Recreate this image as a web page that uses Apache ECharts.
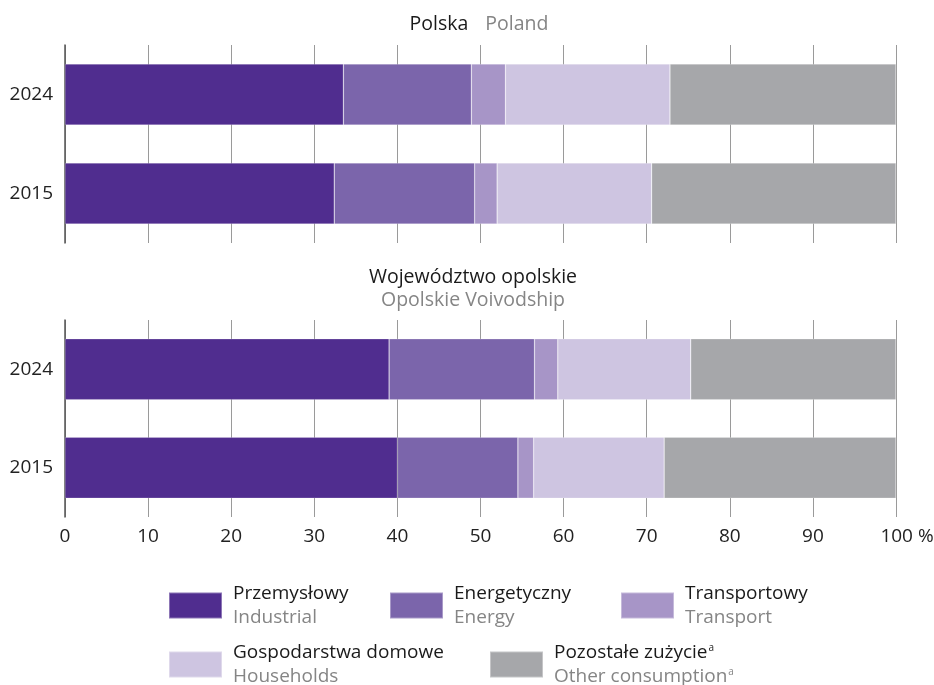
<!DOCTYPE html>
<html>
<head>
<meta charset="utf-8">
<script src="https://cdn.jsdelivr.net/npm/echarts@6/dist/echarts.min.js"></script>
<style>
html,body{margin:0;padding:0;background:#fff;}
#chart{width:934px;height:685px;}
</style>
</head>
<body>
<div id="chart"></div>
<script>
// Categories (bottom to top on the y axis)
const years = ['2015', '2024'];
const xTicks = [0, 10, 20, 30, 40, 50, 60, 70, 80, 90, 100];

// Legend / series names
const namesPL = ['Przemysłowy', 'Energetyczny', 'Transportowy', 'Gospodarstwa domowe', 'Pozostałe zużycie'];
const namesEN = ['Industrial', 'Energy', 'Transport', 'Households', 'Other consumption'];

// Poland (%), order: 2015, 2024
const polandIndustrial = [32.4, 33.5];
const polandEnergy = [16.9, 15.4];
const polandTransport = [2.7, 4.1];
const polandHouseholds = [18.6, 19.8];
const polandOther = [29.4, 27.2];

// Opolskie Voivodship (%), order: 2015, 2024
const opolskieIndustrial = [40.0, 39.0];
const opolskieEnergy = [14.5, 17.5];
const opolskieTransport = [1.9, 2.8];
const opolskieHouseholds = [15.7, 16.0];
const opolskieOther = [27.9, 24.7];

const colors = ['#502D8F', '#7B65AB', '#A795C7', '#CEC5E1', '#A6A7AA'];
const FONT = 'Open Sans';

const polandSets = [polandIndustrial, polandEnergy, polandTransport, polandHouseholds, polandOther];
const opolskieSets = [opolskieIndustrial, opolskieEnergy, opolskieTransport, opolskieHouseholds, opolskieOther];

const series = [];
[polandSets, opolskieSets].forEach((sets, gi) => {
  sets.forEach((d, i) => {
    series.push({
      type: 'bar',
      name: namesPL[i],
      stack: 'g' + gi,
      xAxisIndex: gi,
      yAxisIndex: gi,
      barWidth: 61,
      data: d,
      itemStyle: { color: colors[i], borderColor: 'rgba(255,255,255,0.35)', borderWidth: 0.6 },
      emphasis: { disabled: true }
    });
  });
});

const legendPos = [
  { left: 168, top: 584 },
  { left: 389, top: 584 },
  { left: 620, top: 584 },
  { left: 168, top: 643 },
  { left: 489, top: 643 }
];

const legends = namesPL.map((n, i) => ({
  data: [n],
  left: legendPos[i].left,
  top: legendPos[i].top,
  padding: 0,
  itemWidth: 53,
  itemHeight: 26,
  icon: 'rect',
  selectedMode: false,
  formatter: function (name) {
    const k = namesPL.indexOf(name);
    if (k === 4) {
      return '{a|' + namesPL[k] + '}{s|a}\n{b|' + namesEN[k] + '}{s2|a}';
    }
    return '{a|' + namesPL[k] + '}\n{b|' + namesEN[k] + '}';
  },
  textStyle: {
    fontFamily: FONT,
    rich: {
      a: { fontSize: 19, color: '#1a1a1a', fontFamily: FONT, padding: [0, 0, 0, 6], lineHeight: 24 },
      b: { fontSize: 19, color: '#858585', fontFamily: FONT, padding: [0, 0, 0, 6], lineHeight: 24 },
      s: { fontSize: 10, color: '#1a1a1a', fontFamily: FONT, padding: [0, 0, 8, 1], lineHeight: 24 },
      s2: { fontSize: 10, color: '#858585', fontFamily: FONT, padding: [0, 0, 8, 1], lineHeight: 24 }
    }
  }
}));

const xAxisBase = (gi, showLabel) => ({
  type: 'value',
  gridIndex: gi,
  min: xTicks[0],
  max: xTicks[xTicks.length - 1],
  interval: xTicks[1] - xTicks[0],
  axisLine: { show: false },
  axisTick: { show: false },
  splitLine: { show: true, lineStyle: { color: '#9a9a9a', width: 1 } },
  axisLabel: {
    show: showLabel,
    margin: 10,
    fontFamily: FONT,
    fontSize: 19,
    color: '#222',
    formatter: function (v) {
      if (v === 100) return '{p|100 %}';
      return '{n|' + v + '}';
    },
    rich: {
      n: { fontFamily: FONT, fontSize: 19, color: '#222' },
      p: { fontFamily: FONT, fontSize: 19, color: '#222', padding: [0, 0, 0, 22] }
    }
  }
});

const yAxisBase = (gi) => ({
  type: 'category',
  gridIndex: gi,
  data: years,
  axisLine: { show: true, lineStyle: { color: '#555', width: 1.5 } },
  axisTick: { show: false },
  axisLabel: { margin: 12, fontFamily: FONT, fontSize: 19, color: '#222', padding: [6, 0, 0, 0] },
  splitLine: { show: false }
});

const option = {
  animation: false,
  backgroundColor: '#fff',
  color: colors,
  title: [
    {
      text: '{a|Polska}{b|Poland}',
      left: 474,
      top: 9,
      textAlign: 'center',
      textStyle: {
        rich: {
          a: { fontFamily: FONT, fontSize: 19.5, fontWeight: 'normal', color: '#1a1a1a', padding: [0, 17, 0, 0] },
          b: { fontFamily: FONT, fontSize: 19.5, fontWeight: 'normal', color: '#858585' }
        }
      }
    },
    {
      text: '{a|Województwo opolskie}\n{b|Opolskie Voivodship}',
      left: 468,
      top: 261,
      textAlign: 'center',
      textStyle: {
        rich: {
          a: { fontFamily: FONT, fontSize: 19.5, fontWeight: 'normal', color: '#1a1a1a', lineHeight: 23, align: 'center' },
          b: { fontFamily: FONT, fontSize: 19.5, fontWeight: 'normal', color: '#858585', lineHeight: 23, align: 'center' }
        }
      }
    }
  ],
  legend: legends,
  grid: [
    { left: 65, right: 38, top: 45, height: 198, containLabel: false, outerBoundsMode: 'none' },
    { left: 65, right: 38, top: 320, height: 197, containLabel: false, outerBoundsMode: 'none' }
  ],
  xAxis: [xAxisBase(0, false), xAxisBase(1, true)],
  yAxis: [yAxisBase(0), yAxisBase(1)],
  series: series
};

const chart = echarts.init(document.getElementById('chart'), null, { renderer: 'canvas' });
chart.setOption(option);
</script>
</body>
</html>
